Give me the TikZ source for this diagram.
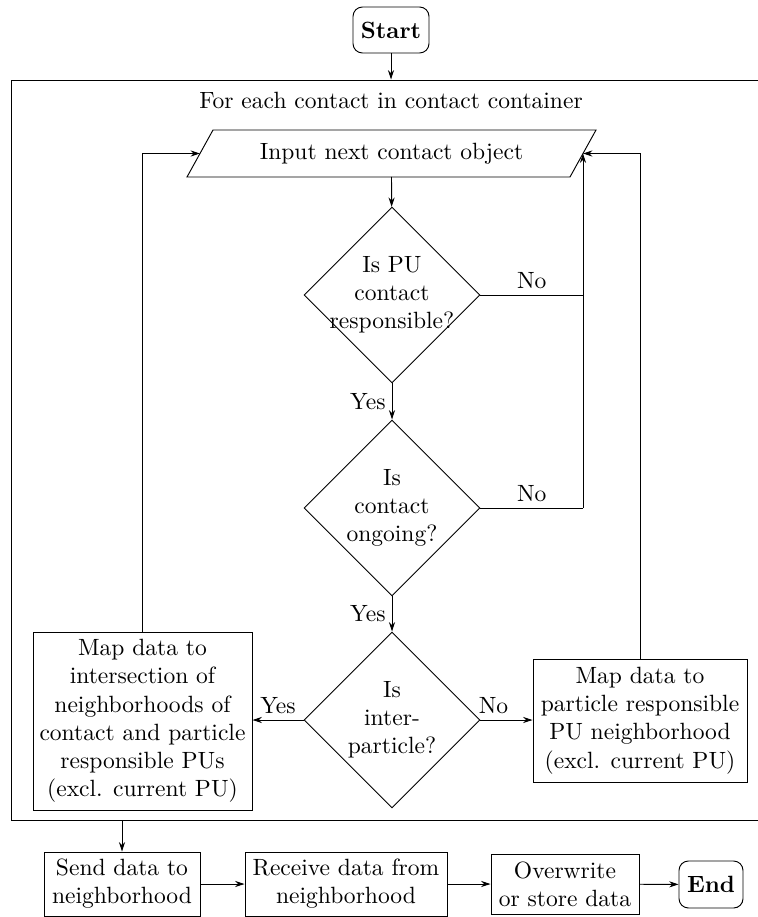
\documentclass[tikz,border=0pt]{standalone}
\usetikzlibrary{shapes.geometric,arrows.meta,calc}
\newcommand\pxu{0.425pt}
\begin{document}
\begin{tikzpicture}[x=\pxu,y=-\pxu,
  arr/.style={-{Stealth[length=4pt,width=2.6pt]}},
  procbox/.style={draw, rectangle, align=center, inner sep=0pt},
  termbox/.style={draw, rectangle, rounded corners=4pt, align=center, inner sep=0pt, font=\bfseries},
  decbox/.style={draw, diamond, aspect=1, inner sep=0pt, minimum width=176*\pxu, minimum height=176*\pxu},
  dectext/.style={align=center, inner sep=0pt},
  lbl/.style={inner sep=2.5pt}]
\useasboundingbox (0,0) rectangle (757,917);

% start terminal
\node[termbox, minimum width=76*\pxu, minimum height=46*\pxu] (start) at (391,30) {Start};

% loop frame
\node[draw, rectangle, inner sep=0pt, minimum width=760*\pxu, minimum height=740*\pxu] (frame) at (391,450) {};
\node[inner sep=0pt] (title) at (391,100) {For each contact in contact container};

% input (parallelogram drawn around the text node)
\node[inner sep=0pt] (input) at (391.5,153.5) {Input next contact object};
\draw ($(input)+(-204.5,23.5)$) -- ++(26,-47) -- ++(383,0) -- ++(-26,47) -- cycle;
\coordinate (inE) at ($(input)+(191.5,0)$);
\coordinate (inW) at ($(input)+(-191.5,0)$);

% decisions
\node[decbox] (d1) at (392,295) {};
\node[dectext] (t1) at (d1) {Is PU\\contact\\responsible?};
\node[decbox] (d2) at (392,508) {};
\node[dectext] (t2) at (d2) {Is\\contact\\ongoing?};
\node[decbox] (d3) at (392,720) {};
\node[dectext] (t3) at (d3) {Is\\inter-\\particle?};

% mapping boxes
\node[procbox, minimum width=219*\pxu, minimum height=178*\pxu] (mapl) at (142.5,721)
  {Map data to\\intersection of\\neighborhoods of\\contact and particle\\responsible PUs\\(excl. current PU)};
\node[procbox, minimum width=214*\pxu, minimum height=123*\pxu] (mapr) at (640,720.5)
  {Map data to\\particle responsible\\PU neighborhood\\(excl. current PU)};

% communication row
\node[procbox, minimum width=156*\pxu, minimum height=64*\pxu] (send) at (122,884) {Send data to\\neighborhood};
\node[procbox, minimum width=202*\pxu, minimum height=64*\pxu] (recv) at (346,884) {Receive data from\\neighborhood};
\node[procbox, minimum width=148*\pxu, minimum height=60*\pxu] (store) at (565,884) {Overwrite\\or store data};
\node[termbox, minimum width=64*\pxu, minimum height=47*\pxu] (end) at (711,884.5) {End};

% connectors
\draw[arr] (start) -- (start |- frame.north);
\draw[arr] (input |- 0,177) -- (d1);
\draw[arr] (d1) -- node[lbl, left] {Yes} (d2);
\draw[arr] (d2) -- node[lbl, left] {Yes} (d3);
\draw (d1.east) -- node[lbl, above] {No} (d1.east -| inE);
\draw (d2.east) -- node[lbl, above] {No} (d2.east -| inE);
\draw[arr] (d2.east -| inE) -- (inE);
\draw[arr] (d3.west) -- node[lbl, above] {Yes} (d3.west -| mapl.east);
\draw[arr] (d3.east) -- node[lbl, above, pos=0.25] {No} (d3.east -| mapr.west);
\draw[arr] (mapl.north) |- (inW);
\draw[arr] (mapr.north) |- (inE);
\draw[arr] (send.north |- frame.south) -- (send.north);
\draw[arr] (send) -- (recv);
\draw[arr] (recv) -- (store);
\draw[arr] (store) -- (end);
\end{tikzpicture}
\end{document}
